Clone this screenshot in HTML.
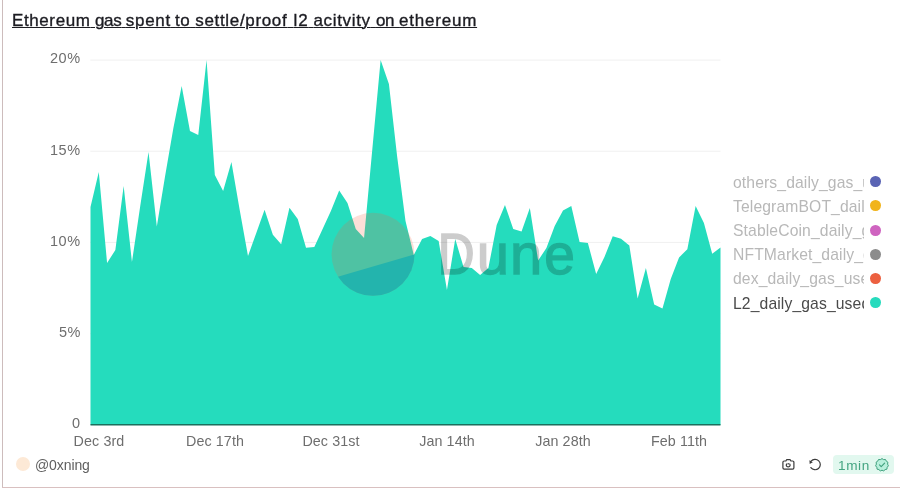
<!DOCTYPE html>
<html><head><meta charset="utf-8"><style>
html,body{margin:0;padding:0;background:#fff;}
body{width:900px;height:491px;position:relative;overflow:hidden;font-family:"Liberation Sans",sans-serif;}
.abs{position:absolute;white-space:nowrap;}
div{will-change:transform;}
#title{left:12.0px;top:10.7px;-webkit-text-stroke:0.35px #1c1c22;font-size:17px;line-height:20px;color:#1c1c22;letter-spacing:0;text-decoration:underline;text-underline-offset:1.4px;text-decoration-thickness:1.3px;}
.yl{position:absolute;right:819.4px;font-size:14.5px;color:#6e6e6e;line-height:16px;letter-spacing:0.5px;}
.xl{position:absolute;top:433px;font-size:14.3px;color:#6e6e6e;line-height:16px;letter-spacing:0.1px;transform:translateX(-50%);}
.lg{position:absolute;left:733px;width:131px;overflow:hidden;font-size:15.7px;line-height:18px;color:#b8b8b8;letter-spacing:0.12px;}
.dot{position:absolute;left:870.25px;width:10.8px;height:10.8px;border-radius:50%;}
</style></head><body>
<div id="bl" class="abs" style="left:2px;top:0;width:1px;height:488px;background:#cdbcbc"></div>
<div id="bb" class="abs" style="left:2px;top:487px;width:898px;height:1px;background:#d9c0c0"></div>
<div id="title" class="abs"><span style="letter-spacing:0.600px">Ethereum</span><span style="word-spacing:-0.222px"> </span><span style="letter-spacing:-0.400px">gas</span><span style="word-spacing:-0.141px"> </span><span style="letter-spacing:0.675px">spent</span><span style="word-spacing:-0.487px"> </span><span style="letter-spacing:0.400px">to</span><span style="word-spacing:0.494px"> </span><span style="letter-spacing:0.664px">settle/proof</span><span style="word-spacing:1.508px"> </span><span style="letter-spacing:1.000px">l2</span><span style="word-spacing:-0.153px"> </span><span style="letter-spacing:0.671px">acitvity</span><span style="word-spacing:0.441px"> </span><span style="letter-spacing:-0.400px">on</span><span style="word-spacing:0.359px"> </span><span style="letter-spacing:0.771px">ethereum</span></div>
<svg class="abs" style="left:0;top:0" width="900" height="491" viewBox="0 0 900 491">
 <g stroke="#f0f0f0" stroke-width="1">
  <line x1="90.3" y1="60.1" x2="720.5" y2="60.1"/>
  <line x1="90.3" y1="151.2" x2="720.5" y2="151.2"/>
  <line x1="90.3" y1="242.4" x2="720.5" y2="242.4"/>
  <line x1="90.3" y1="333.6" x2="720.5" y2="333.6"/>
 </g>
 <path d="M90.5,424.8 L90.50,207.0 98.79,172.0 107.08,263.0 115.37,250.0 123.66,186.0 131.95,262.0 140.24,206.0 148.53,152.0 156.82,226.5 165.11,176.0 173.39,128.0 181.68,86.0 189.97,131.0 198.26,135.0 206.55,60.0 214.84,175.0 223.13,191.0 231.42,162.0 239.71,210.0 248.00,256.0 256.29,233.0 264.58,209.7 272.87,234.8 281.16,244.3 289.45,207.7 297.74,218.9 306.03,247.8 314.32,247.0 322.61,229.0 330.89,211.0 339.18,190.4 347.47,203.0 355.76,229.0 364.05,238.0 372.34,149.0 380.63,60.0 388.92,84.0 397.21,157.0 405.50,221.0 413.79,255.0 422.08,239.0 430.37,236.0 438.66,241.0 446.95,290.0 455.24,239.0 463.53,267.0 471.82,268.0 480.11,275.0 488.39,268.0 496.68,225.0 504.97,205.0 513.26,229.0 521.55,231.5 529.84,208.0 538.13,260.5 546.42,248.0 554.71,226.0 563.00,210.6 571.29,206.0 579.58,242.0 587.87,243.0 596.16,274.0 604.45,257.0 612.74,236.3 621.03,238.7 629.32,245.5 637.61,298.4 645.89,268.0 654.18,304.5 662.47,308.5 670.76,279.0 679.05,257.4 687.34,249.3 695.63,206.0 703.92,223.0 712.21,253.7 720.50,247.6 L720.5,424.8 Z" fill="#25dcbd"/>
 <line x1="90.5" y1="424.8" x2="720.5" y2="424.8" stroke="#1b6f5d" stroke-width="1.4"/>
 <g opacity="0.2">
  <clipPath id="cc"><circle cx="373" cy="254.3" r="41.5"/></clipPath>
  <g clip-path="url(#cc)">
   <rect x="330" y="210" width="90" height="90" fill="#f4603e"/>
   <path d="M320,282 L430,250 L430,310 L320,310 Z" fill="#1e1870"/>
  </g>
  <g font-family="Liberation Sans" font-size="58" fill="#000" stroke="#000" stroke-width="1.4">
   <text transform="translate(437.6,274) scale(0.89,1)">D</text>
   <text x="476.85" y="274">u</text>
   <text x="510.05" y="274">n</text>
   <text transform="translate(544.35,274) scale(0.95,1)">e</text>
  </g>
 </g>
</svg>
<div class="yl" style="top:50.4px">20%</div>
<div class="yl" style="top:141.5px">15%</div>
<div class="yl" style="top:232.7px">10%</div>
<div class="yl" style="top:323.9px">5%</div>
<div class="yl" style="top:415.1px">0</div>
<div class="xl" style="left:98.8px">Dec 3rd</div>
<div class="xl" style="left:214.8px">Dec 17th</div>
<div class="xl" style="left:330.9px">Dec 31st</div>
<div class="xl" style="left:446.9px">Jan 14th</div>
<div class="xl" style="left:563px">Jan 28th</div>
<div class="xl" style="left:679px">Feb 11th</div>
<div class="lg" style="top:173.75px">others_daily_gas_used</div>
<div class="lg" style="top:197.9px">TelegramBOT_daily_gas_used</div>
<div class="lg" style="top:222.05px">StableCoin_daily_gas_used</div>
<div class="lg" style="top:246.2px">NFTMarket_daily_gas_used</div>
<div class="lg" style="top:270.35px">dex_daily_gas_used</div>
<div class="lg" style="top:294.5px;color:#4a4a4a">L2_daily_gas_used</div>
<div class="dot" style="top:176.3px;background:#5a64b4"></div>
<div class="dot" style="top:200.45px;background:#f1b41c"></div>
<div class="dot" style="top:224.6px;background:#cf64c0"></div>
<div class="dot" style="top:248.75px;background:#8c8c8c"></div>
<div class="dot" style="top:272.9px;background:#ec6040"></div>
<div class="dot" style="top:297.05px;background:#27dbbd"></div>
<div class="abs" style="left:16.1px;top:457.3px;width:14px;height:14px;border-radius:50%;background:#fde9d6"></div>
<div class="abs" style="left:35.2px;top:457.2px;font-size:14px;line-height:16px;color:#5f5f5f;letter-spacing:-0.1px;">@0xning</div>
<svg class="abs" style="left:780px;top:456px" width="44" height="18" viewBox="0 0 44 18">
 <g fill="none" stroke="#3a3a3a" stroke-width="1.2" stroke-linejoin="round">
  <path d="M4.2,5 H5.9 L6.6,3.7 H10.2 L10.9,5 H12.6 A1.3,1.3 0 0 1 13.9,6.3 V11.8 A1.3,1.3 0 0 1 12.6,13.1 H4.2 A1.3,1.3 0 0 1 2.9,11.8 V6.3 A1.3,1.3 0 0 1 4.2,5 Z"/>
  <path d="M7.0,7.6 A1.9,1.9 0 1 0 9.4,7.6"/><path d="M8.2,7.0 V8.6"/>
 </g>
 <g transform="translate(0.5,0)">
 <g fill="none" stroke="#3a3a3a" stroke-width="1.2" stroke-linecap="round">
  <path d="M30.6,5.2 A5.2,5.2 0 1 1 30.4,11.6"/>
 </g>
 <path d="M28.9,4.2 L29.2,8.0 L32.3,6.2 Z" fill="#3a3a3a"/>
 </g>
</svg>
<div class="abs" style="left:832.8px;top:455.4px;width:60.8px;height:19px;border-radius:4px;background:#e2f8ef"></div>
<div class="abs" style="left:837.9px;top:457.6px;font-size:13.6px;line-height:16px;color:#45a582;letter-spacing:0.6px;">1min</div>
<svg class="abs" style="left:874px;top:457px" width="16" height="16" viewBox="0 0 16 16">
 <path d="M8,1.6 L9.6,2.6 L11.5,2.5 L12.3,4.2 L13.9,5.2 L13.6,7.1 L14.4,8.8 L13.2,10.3 L12.9,12.2 L11.1,12.6 L9.7,13.9 L8,13.2 L6.3,13.9 L4.9,12.6 L3.1,12.2 L2.8,10.3 L1.6,8.8 L2.4,7.1 L2.1,5.2 L3.7,4.2 L4.5,2.5 L6.4,2.6 Z" fill="#b8f0dc" stroke="#3e9f7c" stroke-width="1" stroke-linejoin="round"/>
 <path d="M5.5,7.9 L7.2,9.6 L10.6,6.2" fill="none" stroke="#3e9f7c" stroke-width="1.1" stroke-linecap="round" stroke-linejoin="round"/>
</svg>
</body></html>
